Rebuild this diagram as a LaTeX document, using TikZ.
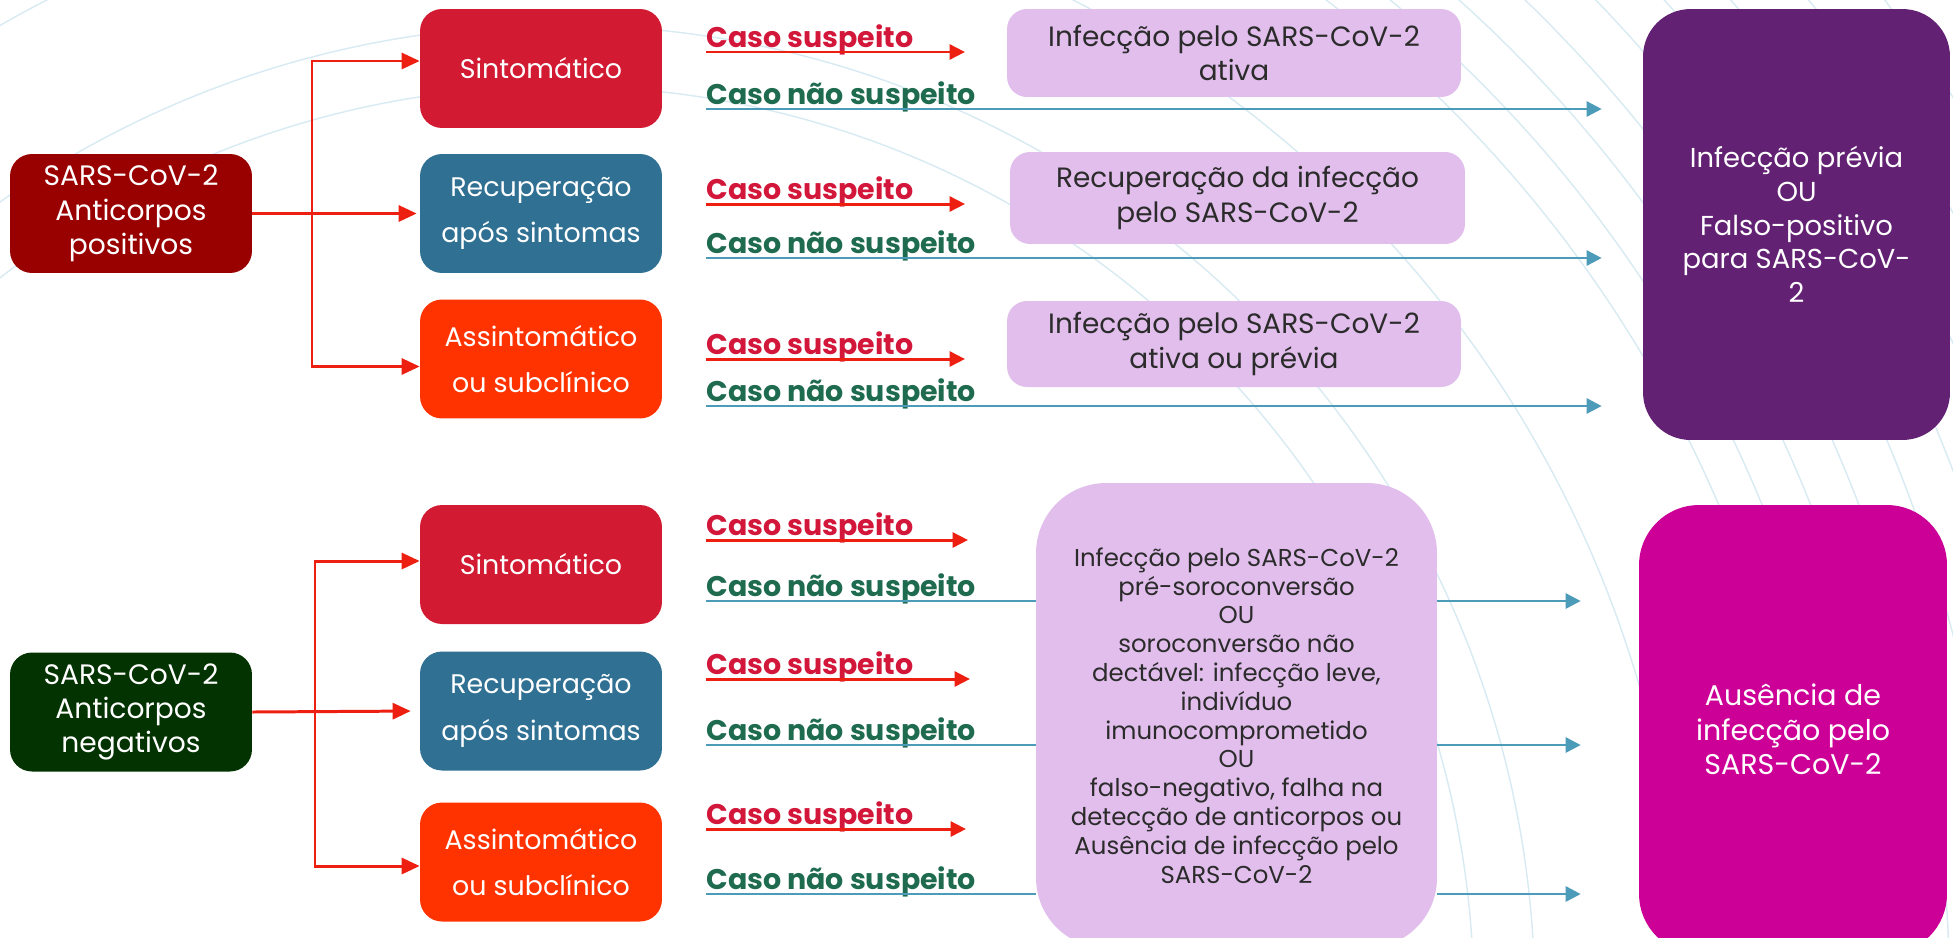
\documentclass[tikz,border=0pt]{standalone}
\usepackage{fontspec}
\setmainfont{Poppins}
\usetikzlibrary{arrows.meta,positioning}

\definecolor{posred}{HTML}{990000}
\definecolor{neggreen}{HTML}{033300}
\definecolor{symred}{HTML}{D21A32}
\definecolor{recblue}{HTML}{2F7093}
\definecolor{asyorange}{HTML}{FF3300}
\definecolor{lilac}{HTML}{E1BEEC}
\definecolor{prevpurple}{HTML}{622173}
\definecolor{absmagenta}{HTML}{CC0096}
\definecolor{treered}{HTML}{EC1F10}
\definecolor{susred}{HTML}{D3173A}
\definecolor{nsgreen}{HTML}{1E6B50}
\definecolor{nsblue}{HTML}{4C9BB8}
\definecolor{decoblue}{HTML}{D8EAF2}
\definecolor{darktext}{HTML}{2B2B2B}

\tikzset{
	deco/.style={draw=decoblue, line width=0.8pt},
	groupbox/.style={rounded corners=0.44cm, minimum width=4.84cm, minimum height=2.38cm, inner sep=0pt, text=white, align=center, font=\fontsize{16}{19.5}\selectfont},
	statebox/.style={groupbox, font=\fontsize{15.3}{26.5}\selectfont},
	resultbox/.style={fill=lilac, rounded corners=0.4cm, inner sep=0pt, text=darktext, align=center, font=\fontsize{15.9}{19.5}\selectfont},
	outcomebox/.style={rounded corners=0.95cm, inner sep=0pt, text=white, align=center, font=\fontsize{15.6}{19.2}\selectfont},
	tree/.style={draw=treered, line width=1.7pt, -{Triangle[length=0.36cm,width=0.32cm]}},
	susarrow/.style={draw=treered, line width=1.7pt, -{Triangle[length=0.31cm,width=0.3cm]}},
	nsline/.style={draw=nsblue, line width=1.5pt},
	nsarrow/.style={nsline, -{Triangle[length=0.3cm,width=0.3cm]}},
	cslabel/.style={inner sep=0pt, anchor=base west, text=susred, font=\fontsize{16.2}{18}\selectfont\bfseries},
	nslabel/.style={cslabel, text=nsgreen}
}

\begin{document}
\begin{tikzpicture}[x=0.02cm, y=-0.02cm]
	\useasboundingbox (0,0) rectangle (1953,937);
	\fill[white] (0,0) rectangle (1953,937);

	\begin{scope}
		\clip (0,0) rectangle (1953,937);
		\draw[deco]	(560,1000) circle (18.28cm)
					(560,1000) circle (19.5cm)
					(560,1000) circle (22.48cm)
					(560,1000) circle (25.2cm)
					(560,1000) circle (26cm)
					(560,1000) circle (26.9cm)
					(560,1000) circle (27.8cm)
					(560,1000) circle (28.8cm)
					(560,1000) circle (29.8cm)
					(560,1000) circle (30.8cm)
					(560,1000) circle (32cm)
					(560,1000) circle (33.2cm);
	\end{scope}

	\node[groupbox, fill=posred] (pos) at (131,213.5) {SARS-CoV-2\\Anticorpos\\positivos};
	\node[statebox, fill=symred] (s1) at (541,68.5) {Sintomático};
	\node[statebox, fill=recblue] (r1) at (541,213.5) {Recuperação\\após sintomas};
	\node[statebox, fill=asyorange] (a1) at (541,359) {Assintomático\\ou subclínico};

	\node[resultbox, minimum width=9.08cm, minimum height=1.76cm] (act) at (1234,53) {Infecção pelo SARS-CoV-2\\ativa};
	\node[resultbox, minimum width=9.1cm, minimum height=1.84cm] (rec) at (1237.5,198) {Recuperação da infecção\\pelo SARS-CoV-2};
	\node[resultbox, minimum width=9.08cm, minimum height=1.72cm] (actprev) at (1234,344) {Infecção pelo SARS-CoV-2\\ativa ou prévia};
	\node[outcomebox, fill=prevpurple, minimum width=6.14cm, minimum height=8.62cm] (prev) at (1796.5,224.5) {Infecção prévia\\OU\\Falso-positivo\\para SARS-CoV-\\2};

	\node[groupbox, fill=neggreen] (neg) at (131,712) {SARS-CoV-2\\Anticorpos\\negativos};
	\node[statebox, fill=symred] (s2) at (541,564.5) {Sintomático};
	\node[statebox, fill=recblue] (r2) at (541,711) {Recuperação\\após sintomas};
	\node[statebox, fill=asyorange] (a2) at (541,862) {Assintomático\\ou subclínico};

	\node[resultbox, rounded corners=1.4cm, minimum width=8.02cm, minimum height=9.3cm, font=\fontsize{13.9}{16.4}\selectfont] (seroneg) at (1236.5,715.5) {Infecção pelo SARS-CoV-2\\pré-soroconversão\\OU\\soroconversão não\\dectável: infecção leve,\\indivíduo\\imunocomprometido\\OU\\falso-negativo, falha na\\detecção de anticorpos ou\\Ausência de infecção pelo\\SARS-CoV-2};
	\node[outcomebox, fill=absmagenta, rounded corners=1.2cm, minimum width=6.16cm, minimum height=8.98cm, font=\fontsize{16.2}{19.6}\selectfont] (absent) at (1793,729.5) {Ausência de\\infecção pelo\\SARS-CoV-2};

	\coordinate (tj1) at (312,213.5);
	\draw[tree, shorten >=0.06cm] (pos.east) -- (r1.west);
	\draw[tree] (tj1) |- ([yshift=0.15cm]s1.west);
	\draw[tree] (tj1) |- ([yshift=-0.15cm]a1.west);

	\coordinate (tj2) at (315,712);
	\draw[tree, shorten >=0.18cm] (neg.east) -- (r2.west);
	\draw[tree] (tj2) |- ([yshift=0.07cm]s2.west);
	\draw[tree] (tj2) |- ([yshift=-0.08cm]a2.west);

	\coordinate (cs1) at (706,52);
	\coordinate (cs1e) at (965,52);
	\coordinate (ns1) at (706,109);
	\node[cslabel] (csl1) at ([yshift=0.1cm]cs1) {Caso suspeito};
	\node[nslabel] (nsl1) at ([yshift=0.1cm]ns1) {Caso não suspeito};
	\draw[susarrow] (cs1) -- (cs1e);
	\draw[nsarrow, shorten >=0.82cm] (ns1) -- (ns1 -| prev.west);

	\coordinate (cs2) at (706,204);
	\coordinate (cs2e) at (965,204);
	\coordinate (ns2) at (706,258);
	\node[cslabel] (csl2) at ([yshift=0.1cm]cs2) {Caso suspeito};
	\node[nslabel] (nsl2) at ([yshift=0.1cm]ns2) {Caso não suspeito};
	\draw[susarrow] (cs2) -- (cs2e);
	\draw[nsarrow, shorten >=0.82cm] (ns2) -- (ns2 -| prev.west);

	\coordinate (cs3) at (706,359);
	\coordinate (cs3e) at (965,359);
	\coordinate (ns3) at (706,406);
	\node[cslabel] (csl3) at ([yshift=0.1cm]cs3) {Caso suspeito};
	\node[nslabel] (nsl3) at ([yshift=0.1cm]ns3) {Caso não suspeito};
	\draw[susarrow] (cs3) -- (cs3e);
	\draw[nsarrow, shorten >=0.82cm] (ns3) -- (ns3 -| prev.west);

	\coordinate (cs4) at (706,540);
	\coordinate (cs4e) at (968,540);
	\coordinate (ns4) at (706,601);
	\node[cslabel] (csl4) at ([yshift=0.1cm]cs4) {Caso suspeito};
	\node[nslabel] (nsl4) at ([yshift=0.1cm]ns4) {Caso não suspeito};
	\draw[susarrow] (cs4) -- (cs4e);
	\draw[nsline] (ns4) -- (ns4 -| seroneg.west);
	\draw[nsarrow, shorten >=1.16cm] (ns4 -| seroneg.east) -- (ns4 -| absent.west);

	\coordinate (cs5) at (706,679);
	\coordinate (cs5e) at (970,679);
	\coordinate (ns5) at (706,745);
	\node[cslabel] (csl5) at ([yshift=0.1cm]cs5) {Caso suspeito};
	\node[nslabel] (nsl5) at ([yshift=0.1cm]ns5) {Caso não suspeito};
	\draw[susarrow] (cs5) -- (cs5e);
	\draw[nsline] (ns5) -- (ns5 -| seroneg.west);
	\draw[nsarrow, shorten >=1.16cm] (ns5 -| seroneg.east) -- (ns5 -| absent.west);

	\coordinate (cs6) at (706,829);
	\coordinate (cs6e) at (966,829);
	\coordinate (ns6) at (706,894);
	\node[cslabel] (csl6) at ([yshift=0.1cm]cs6) {Caso suspeito};
	\node[nslabel] (nsl6) at ([yshift=0.1cm]ns6) {Caso não suspeito};
	\draw[susarrow] (cs6) -- (cs6e);
	\draw[nsline] (ns6) -- (ns6 -| seroneg.west);
	\draw[nsarrow, shorten >=1.16cm] (ns6 -| seroneg.east) -- (ns6 -| absent.west);
\end{tikzpicture}
\end{document}
